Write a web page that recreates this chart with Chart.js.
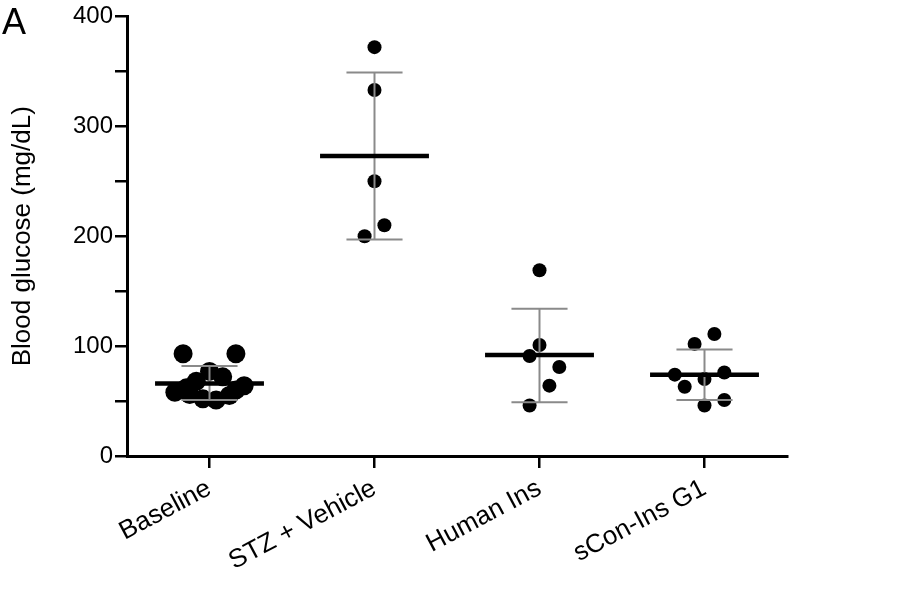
<!DOCTYPE html>
<html>
<head>
<meta charset="utf-8">
<script src="https://cdn.jsdelivr.net/npm/chart.js@4.4.1/dist/chart.umd.min.js"></script>
<style>
  html, body { margin: 0; padding: 0; background: #fff; }
</style>
</head>
<body>
<canvas id="chart" width="900" height="604"></canvas>
<script>
const groups = ['Baseline', 'STZ + Vehicle', 'Human Ins', 'sCon-Ins G1'];

// individual animals, mg/dL, with the horizontal scatter offset (in group widths)
const baselineValues = [93, 93, 77, 72, 68, 64, 58, 56, 52, 51, 55, 60, 62];
const baselineJitter = [-0.16, 0.16, 0, 0.08, -0.08, 0.21, -0.21, -0.12, -0.04, 0.04, 0.12, 0.16, -0.14];
const stzValues = [372, 333, 250, 210, 200];
const stzJitter = [0, 0, 0, 0.06, -0.06];
const humanValues = [169, 101, 91, 81, 64, 46];
const humanJitter = [0, 0, -0.06, 0.12, 0.06, -0.06];
const sconValues = [111, 102, 74, 70, 76, 63, 51, 46];
const sconJitter = [0.06, -0.06, -0.18, 0, 0.12, -0.12, 0.12, 0];

// mean and mean +/- SD per group
const means = [66, 273, 92, 74];
const sdUpper = [82, 349, 134, 97];
const sdLower = [51, 197, 49, 51];

const FONT = "'Liberation Sans', Arial, sans-serif";
const MEAN_HALF = 0.33;
const CAP_HALF = 0.17;

function pointsSet(values, jitter, idx, radius) {
  return {
    data: values.map((v, i) => ({ x: idx + jitter[i], y: v })),
    backgroundColor: '#000',
    borderColor: '#000',
    pointRadius: radius,
    pointBorderWidth: 0,
    showLine: false,
    clip: false,
    order: 2
  };
}

function segment(a, b, color, width, order) {
  return {
    data: [a, b],
    showLine: true,
    borderColor: color,
    borderWidth: width,
    borderCapStyle: 'butt',
    pointRadius: 0,
    fill: false,
    clip: false,
    order: order
  };
}

const datasets = [
  pointsSet(baselineValues, baselineJitter, 0, 9.5),
  pointsSet(stzValues, stzJitter, 1, 7),
  pointsSet(humanValues, humanJitter, 2, 7),
  pointsSet(sconValues, sconJitter, 3, 7)
];

groups.forEach((g, i) => {
  const grey = '#8a8a8a';
  datasets.push(segment({ x: i, y: sdLower[i] }, { x: i, y: sdUpper[i] }, grey, 2, 1));
  datasets.push(segment({ x: i - CAP_HALF, y: sdUpper[i] }, { x: i + CAP_HALF, y: sdUpper[i] }, grey, 2, 1));
  datasets.push(segment({ x: i - CAP_HALF, y: sdLower[i] }, { x: i + CAP_HALF, y: sdLower[i] }, grey, 2, 1));
  datasets.push(segment({ x: i - MEAN_HALF, y: means[i] }, { x: i + MEAN_HALF, y: means[i] }, '#000', 4.5, 0));
});

const panelLetter = {
  id: 'panelLetter',
  afterDraw(chart) {
    const ctx = chart.ctx;
    ctx.save();
    ctx.fillStyle = '#000';
    ctx.font = '36px ' + FONT;
    ctx.textBaseline = 'alphabetic';
    ctx.fillText('A', 2, 34);
    ctx.restore();
  }
};

new Chart(document.getElementById('chart'), {
  type: 'scatter',
  data: { datasets },
  plugins: [panelLetter],
  options: {
    responsive: false,
    devicePixelRatio: 1,
    animation: false,
    layout: { padding: { top: 16, right: 113, left: 0, bottom: 0 } },
    plugins: { legend: { display: false }, tooltip: { enabled: false } },
    scales: {
      x: {
        type: 'linear',
        min: -0.5,
        max: 3.5,
        afterBuildTicks: s => { s.ticks = groups.map((g, i) => ({ value: i })); },
        afterFit: s => { s.height = 148; },
        ticks: {
          callback: v => groups[v],
          autoSkip: false,
          maxRotation: 28,
          minRotation: 28,
          padding: 5,
          color: '#000',
          font: { family: FONT, size: 26 }
        },
        grid: { drawOnChartArea: false, color: '#000', lineWidth: 2.5, tickLength: 12 },
        border: { color: '#000', width: 3 }
      },
      y: {
        min: 0,
        max: 400,
        afterFit: s => { s.width = 127; },
        ticks: {
          stepSize: 50,
          callback: v => (v % 100 === 0 ? v : ''),
          padding: 2,
          color: '#000',
          font: { family: FONT, size: 24 }
        },
        grid: { drawOnChartArea: false, color: '#000', lineWidth: 2.5, tickLength: 12 },
        border: { color: '#000', width: 3 },
        title: {
          display: true,
          text: 'Blood glucose (mg/dL)',
          color: '#000',
          font: { family: FONT, size: 26 },
          padding: { top: 7, bottom: 0 }
        }
      }
    }
  }
});
</script>
</body>
</html>
